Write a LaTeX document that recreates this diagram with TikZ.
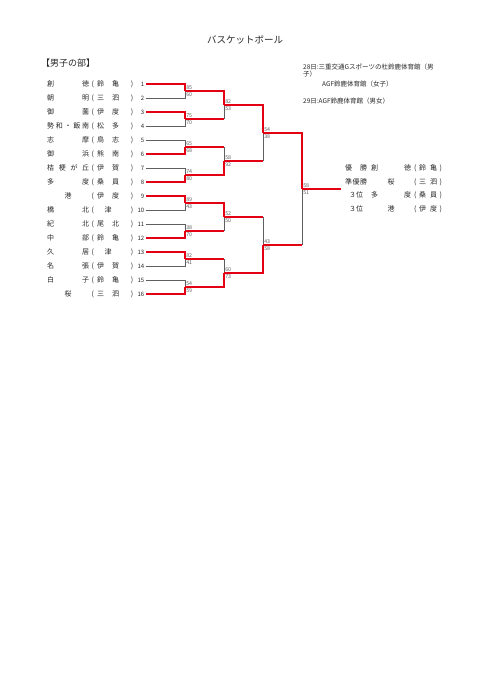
\documentclass[tikz,border=0pt]{standalone}
\usepackage{fontspec}
\setmainfont{Noto Sans CJK JP}
\usetikzlibrary{calc}
\definecolor{wred}{RGB}{228,0,18}
\definecolor{lgray}{RGB}{95,95,95}
\definecolor{txt}{RGB}{40,40,40}
\newcommand\lrow[3]{\makebox[42pt][s]{#1}\makebox[7pt][c]{(}\hspace{1pt}\makebox[22pt][s]{#2}\makebox[14pt][r]{)}\makebox[11pt][r]{\fontsize{6}{6}\selectfont #3}}
\newcommand\rrow[3]{\makebox[22pt][s]{#1}\hspace{4pt}\makebox[40pt][s]{#2}\makebox[8pt][c]{(}\makebox[18pt][s]{#3}\makebox[7pt][c]{)}}
\begin{document}
\begin{tikzpicture}[x=1pt,y=-1pt,
  win/.style={wred,line width=1.7pt},
  lose/.style={lgray,line width=0.7pt},
  sc/.style={font=\fontsize{5.3}{5.3}\selectfont, text=lgray, inner sep=0.5pt},
  row/.style={font=\fontsize{7}{7}\selectfont, text=txt, inner sep=0pt, anchor=base west},
  note/.style={font=\fontsize{6.5}{6.5}\selectfont, text=txt, inner sep=0pt, anchor=base west}]
\fill[white] (0,0) rectangle (481,680);
\useasboundingbox (0,0) rectangle (481,680);

% title
\node[font=\fontsize{9.5}{9.5}\selectfont, text=txt, inner sep=0pt] (title) at (245,40) {バスケットボール};
\node[font=\fontsize{9}{9}\selectfont, text=txt, inner sep=0pt, anchor=west] (sec) at (41,63) {【男子の部】};

% notes
\node[note] (n1) at (303,69.3) {28日:三重交通Gスポーツの杜鈴鹿体育館（男};
\node[note] (n2) at (303,76.3) {子）};
\node[note] (n3) at (322,86.3) {AGF鈴鹿体育館（女子）};
\node[note] (n4) at (303,103.3) {29日:AGF鈴鹿体育館（男女）};

% leaf coordinates
\foreach \i in {1,...,16} \coordinate (s\i) at (146,{84+14*(\i-1)});
% junctions
\coordinate (a1) at (185,91);  \coordinate (a2) at (185,119);
\coordinate (a3) at (185,147); \coordinate (a4) at (185,175);
\coordinate (a5) at (185,203); \coordinate (a6) at (185,231);
\coordinate (a7) at (185,259); \coordinate (a8) at (185,287);
\coordinate (b1) at (224,105); \coordinate (b2) at (224,161);
\coordinate (b3) at (224,217); \coordinate (b4) at (224,273);
\coordinate (c1) at (263,133); \coordinate (c2) at (263,245);
\coordinate (d) at (302,189);  \coordinate (e) at (341,189);

% team rows
\node[row] (t1) at (47,86.6) {\lrow{創\hfill 徳}{鈴\hfill 亀}{1}};
\node[row] (t2) at (47,100.6) {\lrow{朝\hfill 明}{三\hfill 泗}{2}};
\node[row] (t3) at (47,114.6) {\lrow{御\hfill 薗}{伊\hfill 度}{3}};
\node[row] (t4) at (47,128.6) {\lrow{勢\hfill 和\hfill ・\hfill 飯\hfill 南}{松\hfill 多}{4}};
\node[row] (t5) at (47,142.6) {\lrow{志\hfill 摩}{鳥\hfill 志}{5}};
\node[row] (t6) at (47,156.6) {\lrow{御\hfill 浜}{熊\hfill 南}{6}};
\node[row] (t7) at (47,170.6) {\lrow{桔\hfill 梗\hfill が\hfill 丘}{伊\hfill 賀}{7}};
\node[row] (t8) at (47,184.6) {\lrow{多\hfill 度}{桑\hfill 員}{8}};
\node[row] (t9) at (47,198.6) {\lrow{\hfill 港\hfill}{伊\hfill 度}{9}};
\node[row] (t10) at (47,212.6) {\lrow{橋\hfill 北}{\hfill 津\hfill}{10}};
\node[row] (t11) at (47,226.6) {\lrow{紀\hfill 北}{尾\hfill 北}{11}};
\node[row] (t12) at (47,240.6) {\lrow{中\hfill 部}{鈴\hfill 亀}{12}};
\node[row] (t13) at (47,254.6) {\lrow{久\hfill 居}{\hfill 津\hfill}{13}};
\node[row] (t14) at (47,268.6) {\lrow{名\hfill 張}{伊\hfill 賀}{14}};
\node[row] (t15) at (47,282.6) {\lrow{白\hfill 子}{鈴\hfill 亀}{15}};
\node[row] (t16) at (47,296.6) {\lrow{\hfill 桜\hfill}{三\hfill 泗}{16}};

% round 1 losers
\draw[lose] (s2) -| (a1);
\draw[lose] (s4) -| (a2);
\draw[lose] (s5) -| (a3);
\draw[lose] (s7) -| (a4);
\draw[lose] (s10) -| (a5);
\draw[lose] (s11) -| (a6);
\draw[lose] (s14) -| (a7);
\draw[lose] (s15) -| (a8);
% later-round losers: red horizontal, gray vertical half
\draw[win] (a2) -- (a2 -| b1); \draw[lose] (a2 -| b1) -- (b1);
\draw[win] (a3) -- (a3 -| b2); \draw[lose] (a3 -| b2) -- (b2);
\draw[win] (a6) -- (a6 -| b3); \draw[lose] (a6 -| b3) -- (b3);
\draw[win] (a7) -- (a7 -| b4); \draw[lose] (a7 -| b4) -- (b4);
\draw[win] (b2) -- (b2 -| c1); \draw[lose] (b2 -| c1) -- (c1);
\draw[win] (b3) -- (b3 -| c2); \draw[lose] (b3 -| c2) -- (c2);
\draw[win] (c2) -- (c2 -| d);  \draw[lose] (c2 -| d) -- (d);
% winners
\draw[win] (s1) -| (a1);
\draw[win] (s3) -| (a2);
\draw[win] (s6) -| (a3);
\draw[win] (s8) -| (a4);
\draw[win] (s9) -| (a5);
\draw[win] (s12) -| (a6);
\draw[win] (s13) -| (a7);
\draw[win] (s16) -| (a8);
\draw[win] (a1) -| (b1);
\draw[win] (a4) -| (b2);
\draw[win] (a5) -| (b3);
\draw[win] (a8) -| (b4);
\draw[win] (b1) -| (c1);
\draw[win] (b4) -| (c2);
\draw[win] (c1) -| (d);
\draw[win] (d) -- (e);

% scores
\foreach \j/\t/\b in {a1/85/60, a2/75/70, a3/65/68, a4/74/80, a5/89/43, a6/38/70, a7/82/41, a8/54/59,
  b1/82/53, b2/58/92, b3/52/50, b4/60/73, c1/54/38, c2/43/58, d/58/51}{
  \node[sc, anchor=south west] (\j t) at ($(\j)+(0.6,-0.6)$) {\t};
  \node[sc, anchor=north west] (\j b) at ($(\j)+(0.6,0.6)$) {\b};
}

% results
\node[row] (r1) at (345,170.6) {\rrow{優\hfill 勝}{創\hfill 徳}{鈴\hfill 亀}};
\node[row] (r2) at (345,184.1) {\rrow{準\hfill 優\hfill 勝}{\hfill 桜\hfill}{三\hfill 泗}};
\node[row] (r3) at (345,197.6) {\rrow{\hfill ３位\hfill}{多\hfill 度}{桑\hfill 員}};
\node[row] (r4) at (345,211.1) {\rrow{\hfill ３位\hfill}{\hfill 港\hfill}{伊\hfill 度}};
\end{tikzpicture}
\end{document}
